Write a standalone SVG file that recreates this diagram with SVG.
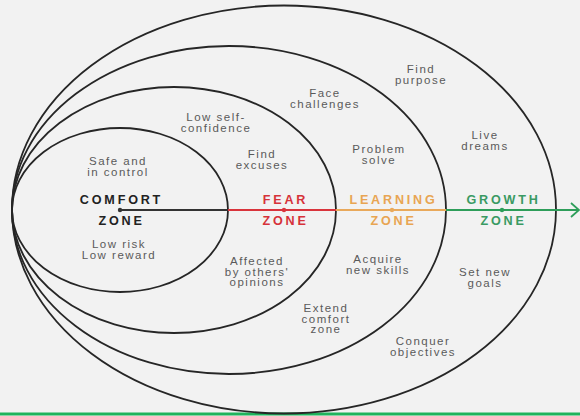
<svg xmlns="http://www.w3.org/2000/svg" width="580" height="416" viewBox="0 0 580 416">
<defs>
<style>
.ring{fill:none;stroke:#262626;stroke-width:1.8}
.lbl{font-family:"Liberation Sans",Arial,sans-serif;font-size:11.5px;fill:#5a5a5a;text-anchor:middle;letter-spacing:1.5px}
.zone{font-family:"Liberation Sans",Arial,sans-serif;font-size:12.6px;font-weight:bold;text-anchor:middle;letter-spacing:2.8px}
.seg{stroke-width:1.8;fill:none}
</style>
<marker id="chev" viewBox="0 0 10 16" refX="9" refY="8" markerWidth="10" markerHeight="16" markerUnits="userSpaceOnUse" orient="auto">
<path d="M1,1 L9,8 L1,15" fill="none" stroke="#2e9e5a" stroke-width="1.8"/>
</marker>
</defs>
<rect width="580" height="416" fill="#f2f2f2"/>
<line x1="0" y1="414" x2="580" y2="414" stroke="#1fb35c" stroke-width="3"/>

<g id="growth">
<ellipse class="ring" cx="284" cy="209.5" rx="272" ry="204"/>
<text class="zone" x="503.5" y="204" fill="#3a9a63">GROWTH</text>
<text class="zone" x="503.5" y="225" fill="#3a9a63">ZONE</text>
<text class="lbl" x="421" y="73">Find</text>
<text class="lbl" x="421" y="84">purpose</text>
<text class="lbl" x="485" y="139">Live</text>
<text class="lbl" x="485" y="150">dreams</text>
<text class="lbl" x="485" y="276">Set new</text>
<text class="lbl" x="485" y="287">goals</text>
<text class="lbl" x="423" y="345">Conquer</text>
<text class="lbl" x="423" y="356">objectives</text>
</g>

<g id="learning">
<ellipse class="ring" cx="229" cy="210" rx="217" ry="164"/>
<text class="zone" x="393.5" y="204" fill="#e8a552">LEARNING</text>
<text class="zone" x="393.5" y="225" fill="#e8a552">ZONE</text>
<text class="lbl" x="325" y="97">Face</text>
<text class="lbl" x="325" y="108">challenges</text>
<text class="lbl" x="379" y="153">Problem</text>
<text class="lbl" x="379" y="164">solve</text>
<text class="lbl" x="378" y="263">Acquire</text>
<text class="lbl" x="378" y="274">new skills</text>
<text class="lbl" x="326" y="312">Extend</text>
<text class="lbl" x="326" y="322.5">comfort</text>
<text class="lbl" x="326" y="333">zone</text>
</g>

<g id="fear">
<ellipse class="ring" cx="174" cy="210" rx="162" ry="123"/>
<text class="zone" x="285.5" y="204" fill="#d6323a">FEAR</text>
<text class="zone" x="285.5" y="225" fill="#d6323a">ZONE</text>
<text class="lbl" x="216" y="121">Low self-</text>
<text class="lbl" x="216" y="131.5">confidence</text>
<text class="lbl" x="262" y="158">Find</text>
<text class="lbl" x="262" y="169">excuses</text>
<text class="lbl" x="257" y="265">Affected</text>
<text class="lbl" x="257" y="275.5">by others'</text>
<text class="lbl" x="257" y="286">opinions</text>
</g>

<g id="comfort">
<ellipse class="ring" cx="120" cy="210" rx="108" ry="82"/>
<text class="zone" x="121.5" y="204" fill="#222">COMFORT</text>
<text class="zone" x="121.5" y="225" fill="#222">ZONE</text>
<text class="lbl" x="118" y="165">Safe and</text>
<text class="lbl" x="118" y="176">in control</text>
<text class="lbl" x="119" y="248">Low risk</text>
<text class="lbl" x="119" y="258.5">Low reward</text>
</g>

<g id="connectors">
<line class="seg" x1="120" y1="210" x2="228" y2="210" stroke="#333"/>
<line class="seg" x1="228" y1="210" x2="336" y2="210" stroke="#d9343c"/>
<line class="seg" x1="336" y1="210" x2="446" y2="210" stroke="#e9a95b"/>
<line class="seg" x1="446" y1="210" x2="579" y2="210" stroke="#2e9e5a" marker-end="url(#chev)"/>
<circle cx="120" cy="210" r="2.2" fill="#333"/>
<circle cx="284" cy="210" r="2.2" fill="#d9343c"/>
<circle cx="392" cy="210" r="2.2" fill="#e9a95b"/>
<circle cx="502" cy="210" r="2.2" fill="#2e9e5a"/>
</g>
</svg>
